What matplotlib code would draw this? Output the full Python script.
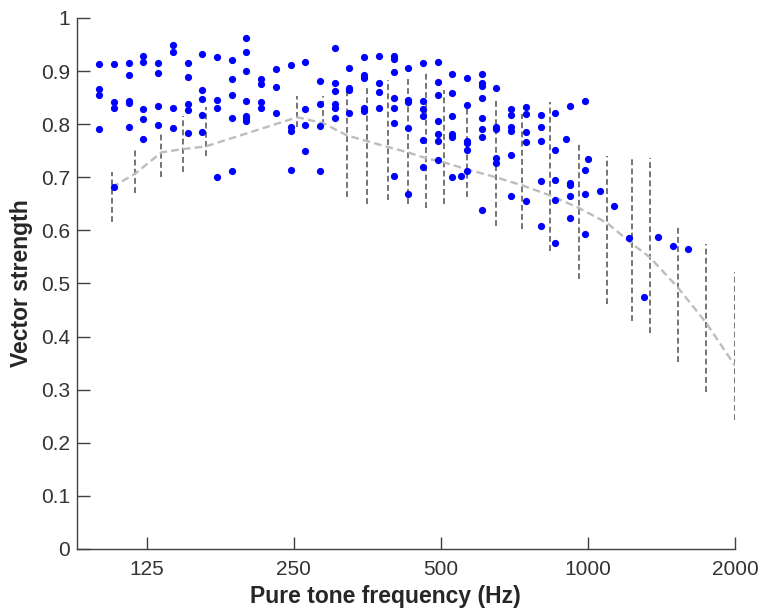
import matplotlib
matplotlib.use("Agg")
import matplotlib.pyplot as plt
from matplotlib.ticker import FixedLocator, NullLocator

plt.rcParams["font.family"] = ["Liberation Sans", "DejaVu Sans"]
plt.rcParams["lines.scale_dashes"] = False

# Tone frequencies (Hz) of the individual units and their vector strengths
tone_hz = [100.0, 107.2, 114.9, 123.1, 132.0, 141.4, 151.6, 162.5, 174.1, 186.6,
           200.0, 214.4, 229.7, 246.2, 263.9, 282.8, 303.1, 324.9, 348.2, 373.2,
           400.0, 428.7, 459.5, 492.5, 527.8, 548.7, 565.7, 606.3, 649.8, 696.4,
           746.4, 800.0, 857.4, 900.0, 919.0, 985.0, 998.7, 1056.0, 1131.0, 1213.0,
           1300.0, 1393.0, 1493.0, 1600.0]
vs_by_tone = [
    [0.913, 0.867, 0.855, 0.790],
    [0.913, 0.842, 0.830, 0.682],
    [0.916, 0.892, 0.844, 0.839, 0.795],
    [0.928, 0.917, 0.828, 0.809, 0.772],
    [0.915, 0.896, 0.834, 0.798],
    [0.950, 0.936, 0.830, 0.793],
    [0.915, 0.889, 0.838, 0.826, 0.784],
    [0.932, 0.864, 0.848, 0.817, 0.785],
    [0.927, 0.846, 0.831, 0.700],
    [0.921, 0.885, 0.855, 0.812, 0.712],
    [0.963, 0.936, 0.901, 0.843, 0.815, 0.811, 0.806],
    [0.885, 0.875, 0.842, 0.831],
    [0.904, 0.870, 0.821],
    [0.911, 0.794, 0.787, 0.713],
    [0.917, 0.828, 0.798, 0.750],
    [0.882, 0.838, 0.797, 0.712],
    [0.943, 0.877, 0.863, 0.838, 0.830, 0.811],
    [0.905, 0.869, 0.865, 0.821],
    [0.926, 0.892, 0.887, 0.831, 0.825],
    [0.928, 0.878, 0.860, 0.831],
    [0.929, 0.922, 0.899, 0.850, 0.830, 0.803, 0.703],
    [0.906, 0.846, 0.842, 0.793, 0.669],
    [0.915, 0.843, 0.828, 0.815, 0.770, 0.719],
    [0.917, 0.880, 0.854, 0.806, 0.781, 0.769, 0.733],
    [0.894, 0.859, 0.816, 0.781, 0.775, 0.700],
    [0.703],
    [0.886, 0.836, 0.768, 0.764, 0.752, 0.712],
    [0.894, 0.877, 0.871, 0.849, 0.811, 0.791, 0.775, 0.638],
    [0.868, 0.795, 0.790, 0.737, 0.726],
    [0.828, 0.817, 0.794, 0.787, 0.742, 0.665],
    [0.832, 0.820, 0.785, 0.766, 0.655],
    [0.818, 0.795, 0.769, 0.693, 0.609],
    [0.821, 0.752, 0.695, 0.657, 0.576],
    [0.772],
    [0.834, 0.689, 0.685, 0.665, 0.624],
    [0.844, 0.714, 0.668, 0.594],
    [0.735],
    [0.675],
    [0.646],
    [0.586],
    [0.474],
    [0.587],
    [0.571],
    [0.564],
]

# Binned summary: centre frequency, average curve and spread range
bin_hz = [106, 118, 134, 148, 165, 254, 287, 321, 353, 390, 428, 466,
          507, 565, 648, 732, 836, 959, 1094, 1230, 1340, 1529, 1745, 2000]
bin_mean = [0.681, 0.706, 0.747, 0.753, 0.758, 0.813, 0.802, 0.779, 0.768, 0.757,
            0.747, 0.736, 0.728, 0.715, 0.700, 0.685, 0.666, 0.642, 0.614, 0.575,
            0.549, 0.492, 0.426, 0.345]
bin_lo = [0.615, 0.670, 0.700, 0.709, 0.740, 0.794, 0.798, 0.662, 0.649, 0.657,
          0.649, 0.643, 0.649, 0.662, 0.608, 0.602, 0.562, 0.509, 0.462, 0.429,
          0.406, 0.352, 0.296, 0.243]
bin_hi = [0.709, 0.751, 0.783, 0.815, 0.832, 0.853, 0.853, 0.864, 0.872, 0.883,
          0.887, 0.896, 0.864, 0.836, 0.849, 0.819, 0.842, 0.762, 0.740, 0.734,
          0.737, 0.606, 0.575, 0.521]

x_ticks = [125, 250, 500, 1000, 2000]
y_ticks = [0, 0.1, 0.2, 0.3, 0.4, 0.5, 0.6, 0.7, 0.8, 0.9, 1]
y_tick_labels = ["0", "0.1", "0.2", "0.3", "0.4", "0.5", "0.6", "0.7", "0.8", "0.9", "1"]

fig = plt.figure(figsize=(7.59, 6.11), dpi=100)
ax = fig.add_axes([0.1015, 0.1015, 0.8669, 0.8691])

axis_col = "#404040"

# spread bars
ax.vlines(bin_hz, bin_lo, bin_hi, colors="#555555", linewidth=1.15,
          linestyles=(0, (4.2, 2.4)), zorder=2)
# average curve
ax.plot(bin_hz, bin_mean, color="#bdbdbd", linewidth=1.7,
        linestyle=(0, (5.5, 3.0)), zorder=3)
# individual units
xs, ys = [], []
for f, vals in zip(tone_hz, vs_by_tone):
    for v in vals:
        xs.append(f)
        ys.append(v)
ax.plot(xs, ys, "o", color="#0000ff", markersize=5.2, markeredgewidth=0, zorder=4)

ax.set_xscale("log")
ax.set_xlim(90, 2000)
ax.set_ylim(0, 1)
ax.xaxis.set_major_locator(FixedLocator(x_ticks))
ax.xaxis.set_minor_locator(NullLocator())
ax.set_xticklabels([str(t) for t in x_ticks])
ax.set_yticks(y_ticks)
ax.set_yticklabels(y_tick_labels)

for side in ("top", "right"):
    ax.spines[side].set_visible(False)
for side in ("left", "bottom"):
    ax.spines[side].set_color(axis_col)
    ax.spines[side].set_linewidth(1.0)

ax.tick_params(direction="in", length=9, width=1.0, color=axis_col,
               labelcolor="#333333", labelsize=15, pad=5)
ax.tick_params(axis="x", pad=8)

ax.set_xlabel("Pure tone frequency (Hz)", fontsize=16.5, fontweight="bold",
              color="#262626")
ax.set_ylabel("Vector strength", fontsize=16.5, fontweight="bold",
              color="#262626", labelpad=6)
ax.xaxis.set_label_coords(0.468, -0.068)

fig.savefig("out.png", dpi=100)
